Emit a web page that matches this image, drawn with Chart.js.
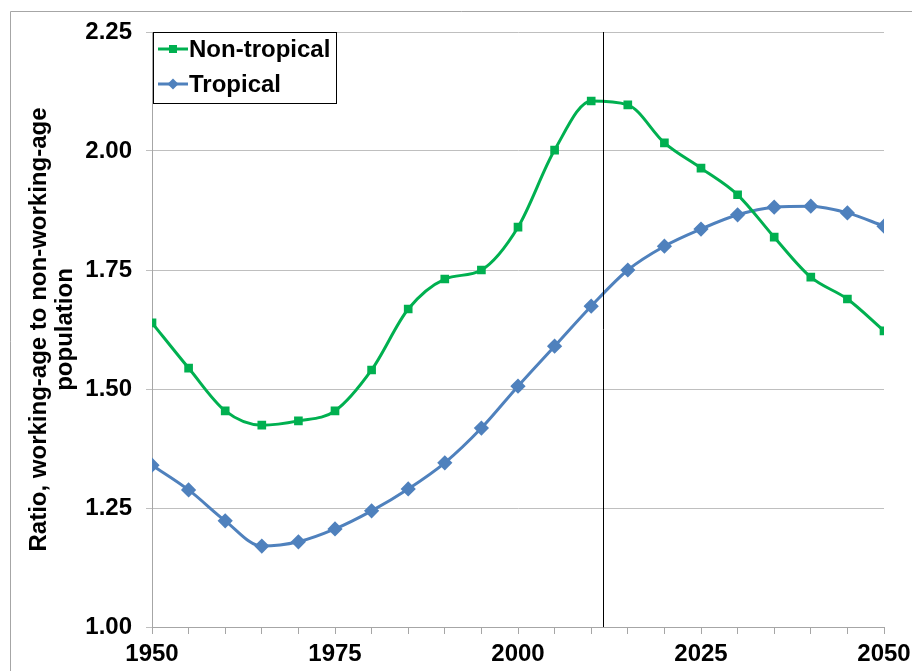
<!DOCTYPE html>
<html>
<head>
<meta charset="utf-8">
<script src="https://cdn.jsdelivr.net/npm/chart.js@4/dist/chart.umd.min.js"></script>
<style>
html,body{margin:0;padding:0;background:#fff;}
#wrap{width:912px;height:671px;position:relative;}
</style>
</head>
<body>
<div id="wrap"><canvas id="c" width="912" height="671"></canvas></div>
<script>
const years = [1950,1955,1960,1965,1970,1975,1980,1985,1990,1995,2000,2005,2010,2015,2020,2025,2030,2035,2040,2045,2050];
const nonTropical = [1.639,1.544,1.454,1.424,1.433,1.454,1.540,1.668,1.731,1.750,1.840,2.002,2.105,2.097,2.017,1.964,1.908,1.819,1.735,1.689,1.622];
const tropical = [1.340,1.288,1.223,1.170,1.179,1.206,1.244,1.290,1.345,1.418,1.506,1.590,1.674,1.750,1.800,1.836,1.866,1.882,1.884,1.870,1.842];
const seriesNames = ['Non-tropical','Tropical'];
const xTickLabels = ['1950','1975','2000','2025','2050'];
const yTickLabels = ['1.00','1.25','1.50','1.75','2.00','2.25'];
const markerYear = 2011.6;
const yTitle = ['Ratio, working-age to non-working-age','population'];

const GREEN = '#00B050', BLUE = '#4F81BD';
const FONT = '"Liberation Sans", Arial, sans-serif';

const toXY = (vals) => vals.map((v,i)=>({x:years[i], y:v}));

const framePlugin = {
  id:'frame',
  beforeDraw(chart){
    const ctx = chart.ctx;
    ctx.save();
    ctx.fillStyle = '#fff';
    ctx.fillRect(0,0,chart.width,chart.height);
    ctx.strokeStyle = '#A6A6A6';
    ctx.lineWidth = 1;
    ctx.beginPath();
    ctx.moveTo(10.5, chart.height);
    ctx.lineTo(10.5, 11.5);
    ctx.lineTo(chart.width, 11.5);
    ctx.stroke();
    ctx.restore();
  },
  afterDatasetsDraw(chart){
    const ctx = chart.ctx, xs = chart.scales.x, a = chart.chartArea;
    const px = Math.round(xs.getPixelForValue(markerYear)) + 0.5;
    ctx.save();
    ctx.strokeStyle = '#000';
    ctx.lineWidth = 1;
    ctx.beginPath();
    ctx.moveTo(px, a.top);
    ctx.lineTo(px, a.bottom);
    ctx.stroke();
    // legend
    const lx = 153.5, ly = 32.5, lw = 183, lh = 71;
    ctx.fillStyle = '#fff';
    ctx.fillRect(lx, ly, lw, lh);
    ctx.strokeStyle = '#000';
    ctx.strokeRect(lx, ly, lw, lh);
    chart.data.datasets.forEach((ds, i) => {
      const cy = 49 + i*35;
      ctx.strokeStyle = ds.borderColor;
      ctx.lineWidth = 3;
      ctx.beginPath();
      ctx.moveTo(158, cy);
      ctx.lineTo(188, cy);
      ctx.stroke();
      ctx.fillStyle = ds.borderColor;
      if (ds.pointStyle === 'rect') {
        ctx.fillRect(173-4, cy-4, 8, 8);
      } else {
        ctx.beginPath();
        ctx.moveTo(173, cy-5.5); ctx.lineTo(178.5, cy); ctx.lineTo(173, cy+5.5); ctx.lineTo(167.5, cy);
        ctx.closePath(); ctx.fill();
      }
      ctx.fillStyle = '#000';
      ctx.font = 'bold 24px ' + FONT;
      ctx.textBaseline = 'middle';
      ctx.textAlign = 'left';
      ctx.fillText(ds.label, 189, cy + 1);
    });
    ctx.restore();
  }
};

new Chart(document.getElementById('c'), {
  type:'line',
  data:{
    datasets:[
      {label:seriesNames[0], data:toXY(nonTropical), borderColor:GREEN, backgroundColor:GREEN,
       borderWidth:3, pointStyle:'rect', pointRadius:4, pointHoverRadius:4, tension:0.3, cubicInterpolationMode:'monotone'},
      {label:seriesNames[1], data:toXY(tropical), borderColor:BLUE, backgroundColor:BLUE,
       borderWidth:3, pointStyle:'rectRot', pointRadius:5.5, pointHoverRadius:5.5, tension:0.3, cubicInterpolationMode:'monotone'}
    ]
  },
  options:{
    responsive:false,
    animation:false,
    events:[],
    layout:{padding:{left:22, top:32, right:28, bottom:0}},
    plugins:{legend:{display:false}, tooltip:{enabled:false}},
    scales:{
      x:{
        type:'linear', min:1950, max:2050,
        afterFit(s){ s.height = 44; s.paddingLeft = 0; s.paddingRight = 0; },
        border:{display:true, color:'#A6A6A6', width:1},
        grid:{drawOnChartArea:false, drawTicks:true, tickLength:7, color:'#A6A6A6'},
        ticks:{
          stepSize:5, autoSkip:false, maxRotation:0, padding:6, color:'#000',
          font:{family:FONT, size:24, weight:'bold'},
          callback(v){ const s = String(v); return xTickLabels.includes(s) ? s : ''; }
        }
      },
      y:{
        min:1.0, max:2.25,
        afterFit(s){ s.width = 130; s.paddingTop = 0; s.paddingBottom = 0; },
        border:{display:true, color:'#A6A6A6', width:1},
        grid:{color:'#BFBFBF', tickLength:6, drawTicks:true},
        title:{display:true, text:yTitle, color:'#000', font:{family:FONT, size:24, weight:'bold', lineHeight:1.08}, padding:{top:4,bottom:0}},
        ticks:{
          stepSize:0.25, padding:14, color:'#000',
          font:{family:FONT, size:24, weight:'bold'},
          callback(v, i){ return yTickLabels[i]; }
        }
      }
    }
  },
  plugins:[framePlugin]
});
</script>
</body>
</html>
